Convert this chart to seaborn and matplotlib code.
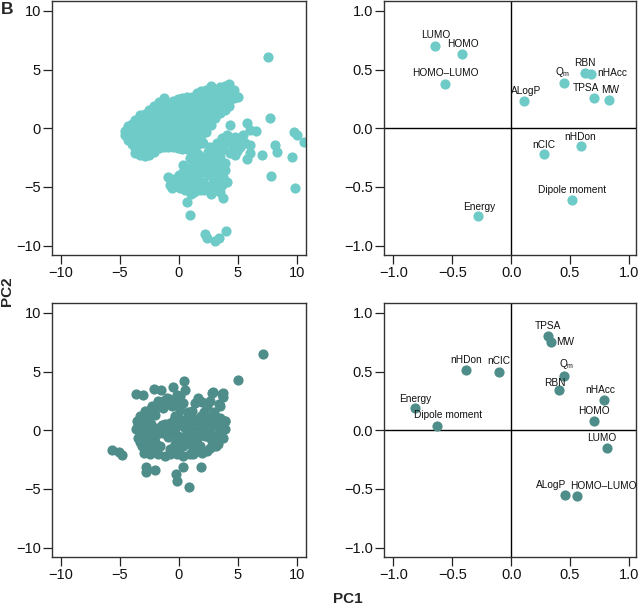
import matplotlib
matplotlib.use("Agg")
import matplotlib.pyplot as plt
import seaborn as sns
import pandas as pd

# ---------------- data ----------------
# Top-left score plot: dense main cluster, given as columns {PC1: [PC2 values]}
top_main_columns = {
    -4.6: [-0.6, -0.2],
    -4.3: [-1.0, -0.6, -0.2, 0.2],
    -4.0: [-1.3, -0.8, -0.4, 0.0, 0.4],
    -3.7: [-2.1, -1.7, -1.3, -0.9, -0.5, -0.1, 0.3, 0.7],
    -3.3: [-2.3, -1.9, -1.5, -1.1, -0.7, -0.3, 0.1, 0.5, 0.9, 1.1],
    -2.9: [-2.4, -2.0, -1.6, -1.2, -0.8, -0.4, 0.0, 0.4, 0.8, 1.2],
    -2.5: [-2.3, -1.9, -1.5, -1.1, -0.7, -0.3, 0.1, 0.5, 0.9, 1.3, 1.6],
    -2.1: [-2.0, -1.6, -1.2, -0.8, -0.4, 0.0, 0.4, 0.8, 1.2, 1.6, 1.9],
    -1.7: [-1.7, -1.3, -0.9, -0.5, -0.1, 0.3, 0.7, 1.1, 1.5, 1.9, 2.2],
    -1.3: [-1.6, -1.2, -0.8, -0.4, 0.0, 0.4, 0.8, 1.2, 1.6, 2.0, 2.6],
    -0.9: [-1.6, -1.2, -0.8, -0.4, 0.0, 0.4, 0.8, 1.2, 1.6, 2.0],
    -0.5: [-1.6, -1.2, -0.8, -0.4, 0.0, 0.4, 0.8, 1.2, 1.6, 2.0, 2.3],
    -0.1: [-1.7, -1.3, -0.9, -0.5, -0.1, 0.3, 0.7, 1.1, 1.5, 1.9, 2.3, 2.5],
    0.3: [-1.8, -1.4, -1.0, -0.6, -0.2, 0.2, 0.6, 1.0, 1.4, 1.8, 2.2, 2.6],
    0.7: [-1.8, -1.4, -1.0, -0.6, -0.2, 0.2, 0.6, 1.0, 1.4, 1.8, 2.2, 2.7],
    1.1: [-1.6, -1.2, -0.8, -0.4, 0.0, 0.4, 0.8, 1.2, 1.6, 2.0, 2.4, 2.7],
    1.5: [-1.4, -1.0, -0.6, -0.2, 0.2, 0.6, 1.0, 1.4, 1.8, 2.2, 2.6, 3.0],
    1.9: [-1.0, -0.5, -0.1, 0.3, 0.7, 1.1, 1.5, 1.9, 2.3, 2.7, 3.2],
    2.3: [-0.3, 0.1, 0.5, 0.9, 1.3, 1.7, 2.1, 2.5, 2.9, 3.3],
    2.7: [0.3, 0.7, 1.1, 1.5, 1.9, 2.3, 2.7, 3.1, 3.6],
    3.1: [0.9, 1.3, 1.7, 2.1, 2.5, 2.9, 3.3],
    3.5: [1.3, 1.7, 2.1, 2.5, 2.9, 3.3, 3.5],
    3.9: [1.6, 2.0, 2.4, 2.8, 3.2, 3.6],
    4.3: [1.9, 2.3, 2.7, 3.1, 3.5, 3.8],
    4.7: [2.6, 3.3],
    5.0: [2.7],
}
# Top-left score plot: lower cluster and scattered compounds (PC1, PC2)
top_other_pc1 = [4.35, 5.76, 6.04, 6.55, 7.74, 9.78, 10.0, 10.6, 8.17, 8.3, 7.1, 9.58, 7.8, 9.9,
                 5.8, 6.0, 6.04, 4.77, 5.05, 4.06, 3.2, 2.5, 2.22, 0.95, 0.38, -0.89, -0.6, 0.67,
                 1.8, 2.93, 3.78, 3.92, 3.5, 3.72, 0.67, 0.95, 2.22, 2.42, 3.07, 3.41, 4.0, 1.8,
                 2.65, 3.2, 0.95, 1.52, -0.18, 0.1, 0.95, 2.37, 3.2, 3.64, 2.08, 2.65, 3.78, 4.63,
                 5.2, 5.62, 5.48, 4.77, 3.64, 4.35, 2.93, 3.5, 1.52, 0.38, -0.75, 1.23, 2.08, 3.2,
                 4.06, 7.6, 0.5, 1.3, 2.6, 1.0, 2.0, 2.6, 0.3, -0.4, 1.6,
                 1.3, 2.3, 1.5, 2.9, 3.4, 0.0, -0.4, 1.9, 1.2, 2.6, 3.2, 3.9, 3.6, 4.2, 4.9, 1.2, 1.6,
                 0.6, 1.4, 2.7, 3.0, 0.2, 1.0, 2.1, 2.4, 3.4, 2.8, 1.8]
top_other_pc2 = [0.28, 0.42, -0.15, -0.23, 0.85, -0.34, -0.57, -1.14, -1.42, -2.0, -2.28, -2.47, -4.1, -5.06,
                 -2.65, -2.08, -1.42, -2.28, -1.14, -0.57, -1.28, -2.0, -2.42, -2.56, -3.13, -4.12, -5.1, -4.4,
                 -5.26, -4.55, -4.12, -3.55, -5.4, -5.97, -6.26, -7.39, -9.0, -9.38, -9.58, -9.38, -8.73, -2.98,
                 -3.13, -2.98, -3.84, -4.12, -4.55, -5.1, -4.97, -4.97, -3.84, -4.83, -1.28, -1.57, -1.57, -1.57,
                 -1.57, -1.28, -0.57, -0.71, -0.85, -2.13, -2.42, -2.42, -3.41, -3.7, -4.83, -4.69, -4.55, -5.26,
                 -4.55, 6.05, -5.3, -5.4, -5.2, -3.3, -3.7, -4.0, -4.2, -4.3, -2.2,
                 -3.0, -3.5, -5.0, -3.6, -4.5, -4.0, -4.8, -4.6, -3.6, -2.6, -2.0, -3.0, -1.9, -1.1, -1.9, -2.3, -2.6,
                 -3.5, -4.6, -5.6, -5.0, -4.8, -5.6, -5.3, -3.0, -3.3, -2.0, -3.8]

# Bottom-left score plot (PC1, PC2)
bot_pc1 = [7.11, 5.05, -5.67, -5.13, -4.8, -3.66, -3.07, -2.1, -1.54, -2.8, -2.8, -2.0, -0.24, -0.13,
           0.86, 0.33, 1.88, 0.41, -0.47, 2.93, 3.72, 3.72, 3.49, 3.9, 3.58, 3.13,
           0.53, -0.18, -1.03, -1.74, -2.3, -2.87, -3.3, -3.57, -3.63, -3.44, -3.15, -3.0, -2.44, -1.74,
           -1.17, -0.75, -0.18, 0.38, 1.23, 1.94, 2.65, 3.35, 3.78, 3.92, 3.92, 3.5, 2.79, 2.08, 1.52,
           1.1, 1.38, 1.66, 2.65, 2.79, 3.64, 3.44, 2.37, 0.38, 0.1, -0.6, -1.32, -2.02, -2.59, -2.87,
           -2.3, -2.02, -2.59, -2.44, -1.6, -1.45, -0.75, -0.18, -0.04, -0.32, 0.38, 0.67, 0.53, 1.23,
           1.52, 1.1, 1.8, 2.22, 1.94, 2.65, 3.07, 2.79, 3.35, -1.32, -0.32, -3.3, -3.44, -3.0, -1.74,
           -2.44, -1.32, -0.47, 0.81, 0.95, 2.37, -0.75,
           -3.1, -2.7, -2.4, -2.2, -2.0, -1.9, -1.0, -0.6, -0.3, 0.2, 0.9, 0.9, 1.6, 2.3, 2.5, 3.0,
           3.5, 3.2, 1.5, 0.0, -2.0, -2.7, -3.0, -2.0, -1.0, -0.1, 0.1, -0.8, 2.1, 2.0, 3.0, -1.5,
           -2.4, 0.0, 0.3, -0.4, 1.8, 2.6, 3.3, 1.2, 0.6, -0.2,
           -3.3, -2.2, -2.6, -1.2, -0.9, 0.5, 1.4, 2.9, 3.6, 2.4, 1.3, -3.2, 0.8, 1.9, 2.2]
bot_pc2 = [6.54, 4.3, -1.66, -1.86, -2.11, 3.1, 2.97, 3.56, 3.42, -3.1, -3.53, -3.39, -3.7, -4.33,
           -4.84, -3.1, -3.1, 4.18, 3.7, 3.25, 3.19, 2.85, 2.06, 0.78, -0.64, -1.35,
           3.47, 3.05, 2.77, 2.48, 2.05, 1.63, 1.2, 0.78, 0.07, -0.64, -1.35, -1.91, -2.06, -2.06,
           -2.2, -1.63, -2.06, -2.2, -2.06, -1.91, -1.49, -1.21, -0.64, 0.07, 0.78, 1.06, 0.92, 0.92, 0.78,
           1.63, 2.34, 2.77, 2.48, 3.19, 3.13, 2.2, 2.05, 2.34, 1.77, 2.05, 1.91, 1.34, 0.92, 0.21,
           0.07, -0.5, -0.78, -1.49, -1.35, 0.49, 0.64, 0.35, -0.5, -1.21, -1.35, -0.5, 0.21, 0.07,
           -0.78, -1.35, -1.35, -0.5, 0.21, 0.21, -0.5, -0.92, 0.35, -0.21, 1.2, -0.35, 0.49, 0.92, 0.21,
           1.77, 2.48, 2.62, 1.2, -2.06, -1.78, -2.06,
           0.5, -0.4, 0.5, -0.1, 1.8, -0.3, -0.1, 0.1, -0.2, -0.9, -0.9, 0.6, -0.2, 0.6, -0.1, 0.8,
           -0.3, -0.9, -1.8, -1.6, -1.7, -1.0, -0.9, -1.0, 2.2, 2.4, 2.9, 2.7, 1.6, 2.4, 1.6, 0.0,
           1.3, 1.0, 0.9, 0.9, -0.1, -0.6, -0.3, -0.3, -0.4, -0.9,
           -1.0, -1.2, 0.4, 0.5, -0.6, -1.0, -0.3, -1.3, 0.4, 1.2, 1.0, 0.2, 1.6, 1.2, 0.5]

# Loading plots
top_labels = ["LUMO", "HOMO", "HOMO\u2013LUMO", "ALogP", "Qm", "RBN", "nHAcc", "TPSA", "MW",
              "nCIC", "nHDon", "Dipole moment", "Energy"]
top_load_pc1 = [-0.65, -0.42, -0.56, 0.11, 0.45, 0.63, 0.68, 0.70, 0.83, 0.28, 0.59, 0.52, -0.28]
top_load_pc2 = [0.70, 0.63, 0.38, 0.23, 0.39, 0.47, 0.46, 0.26, 0.24, -0.22, -0.15, -0.61, -0.75]

bot_labels = ["TPSA", "MW", "nHDon", "nCIC", "Qm", "RBN", "nHAcc", "HOMO", "LUMO", "ALogP",
              "HOMO\u2013LUMO", "Energy", "Dipole moment"]
bot_load_pc1 = [0.31, 0.34, -0.38, -0.10, 0.45, 0.41, 0.79, 0.70, 0.81, 0.46, 0.56, -0.82, -0.63]
bot_load_pc2 = [0.80, 0.75, 0.51, 0.50, 0.46, 0.34, 0.26, 0.08, -0.15, -0.55, -0.56, 0.19, 0.04]

score_ticks = [-10, -5, 0, 5, 10]
load_ticks = [-1.0, -0.5, 0.0, 0.5, 1.0]

# ---------------- label placement (pixels: dx, dy, ha) ----------------
top_label_style = [(1, 10.7, "center"), (1, 10.3, "center"), (0, 11, "center"), (2.3, 10, "center"),
                   (-1.7, 11, "center"), (-0.7, 10, "center"), (6, 1, "left"), (-7.3, 9.3, "center"),
                   (1.7, 9.7, "center"), (0, 9.3, "center"), (0, 9.3, "center"), (0, 10.3, "center"),
                   (0.7, 9.7, "center")]
bot_label_style = [(0, 10.7, "center"), (4.7, 0, "left"), (0, 10.3, "center"), (-0.7, 10.7, "center"),
                   (2.4, 12.7, "center"), (-5, 7.7, "center"), (-4.3, 10, "center"), (0, 10, "center"),
                   (-4.7, 10, "center"), (-14.3, 10, "center"), (26.3, 10.3, "center"), (0.3, 9.3, "center"),
                   (11.3, 10.3, "center")]

# ---------------- style ----------------
sns.set_theme(style="white")
plt.rcParams['font.family'] = ['Liberation Sans', 'DejaVu Sans']
plt.rcParams['mathtext.fontset'] = 'custom'
plt.rcParams['mathtext.rm'] = 'Liberation Sans'
plt.rcParams['mathtext.it'] = 'Liberation Sans:italic'

LIGHT = "#6ECBC8"
DARK = "#4E8D89"
MS = 54

W, H = 640, 611
fig = plt.figure(figsize=(6.4, 6.11), dpi=100)
ax_tl = fig.add_axes([52 / W, 1 - 255 / H, 254 / W, 254 / H])
ax_tr = fig.add_axes([384 / W, 1 - 255 / H, 252 / W, 254 / H])
ax_bl = fig.add_axes([52 / W, 1 - 557 / H, 254 / W, 254 / H])
ax_br = fig.add_axes([384 / W, 1 - 557 / H, 252 / W, 254 / H])

def style_axes(ax, ticks, lim):
    ax.set_xlim(*lim[0])
    ax.set_ylim(*lim[1])
    ax.set_xticks(ticks)
    ax.set_yticks(ticks)
    ax.tick_params(axis="both", which="major", direction="out", length=6.5, width=0.9,
                   pad=1.5, labelsize=10.5, colors="#222222", bottom=True, left=True,
                   labelcolor="#111111")
    for sp in ax.spines.values():
        sp.set_color("#333333")
        sp.set_linewidth(1.0)
        sp.set_visible(True)
    ax.set_xlabel("")
    ax.set_ylabel("")

# top-left scores
tl_x, tl_y = [], []
for cx, ys in top_main_columns.items():
    for yv in ys:
        tl_x.append(cx)
        tl_y.append(yv)
tl_df = pd.DataFrame({"PC1": tl_x + top_other_pc1, "PC2": tl_y + top_other_pc2})
sns.scatterplot(data=tl_df, x="PC1", y="PC2", ax=ax_tl, color=LIGHT, s=MS, linewidth=0,
                legend=False, alpha=1)
style_axes(ax_tl, score_ticks, ((-10.78, 10.8), (-10.8, 10.85)))

bl_df = pd.DataFrame({"PC1": bot_pc1, "PC2": bot_pc2})
sns.scatterplot(data=bl_df, x="PC1", y="PC2", ax=ax_bl, color=DARK, s=MS, linewidth=0,
                legend=False, alpha=1)
style_axes(ax_bl, score_ticks, ((-10.78, 10.8), (-10.8, 10.85)))

def loading_panel(ax, labels, pc1, pc2, styles, color):
    ax.axhline(0, color="black", lw=1.0, zorder=1)
    ax.axvline(0, color="black", lw=1.0, zorder=1)
    df = pd.DataFrame({"PC1": pc1, "PC2": pc2, "var": labels})
    sns.scatterplot(data=df, x="PC1", y="PC2", ax=ax, color=color, s=MS, linewidth=0,
                    legend=False, zorder=3)
    for lab, xv, yv, (dx, dy, ha) in zip(labels, pc1, pc2, styles):
        txt = r"$\mathregular{Q_{m}}$" if lab == "Qm" else lab
        ax.annotate(txt, (xv, yv), xytext=(dx * 0.72, dy * 0.72), textcoords="offset points",
                    ha=ha, va="center", fontsize=7.3, color="#111111", zorder=4)
    style_axes(ax, load_ticks, ((-1.08, 1.06), (-1.08, 1.085)))

loading_panel(ax_tr, top_labels, top_load_pc1, top_load_pc2, top_label_style, LIGHT)
loading_panel(ax_br, bot_labels, bot_load_pc1, bot_load_pc2, bot_label_style, DARK)

fig.text(1 / W, 1 - 9 / H, "B", fontsize=12.5, fontweight="bold", ha="left", va="center")
fig.text(7.5 / W, 1 - 291 / H, "PC2", fontsize=11, fontweight="bold", rotation=90,
         ha="center", va="center")
fig.text(348 / W, 1 - 599 / H, "PC1", fontsize=11, fontweight="bold", ha="center", va="center")

fig.savefig("out.png", dpi=100)
